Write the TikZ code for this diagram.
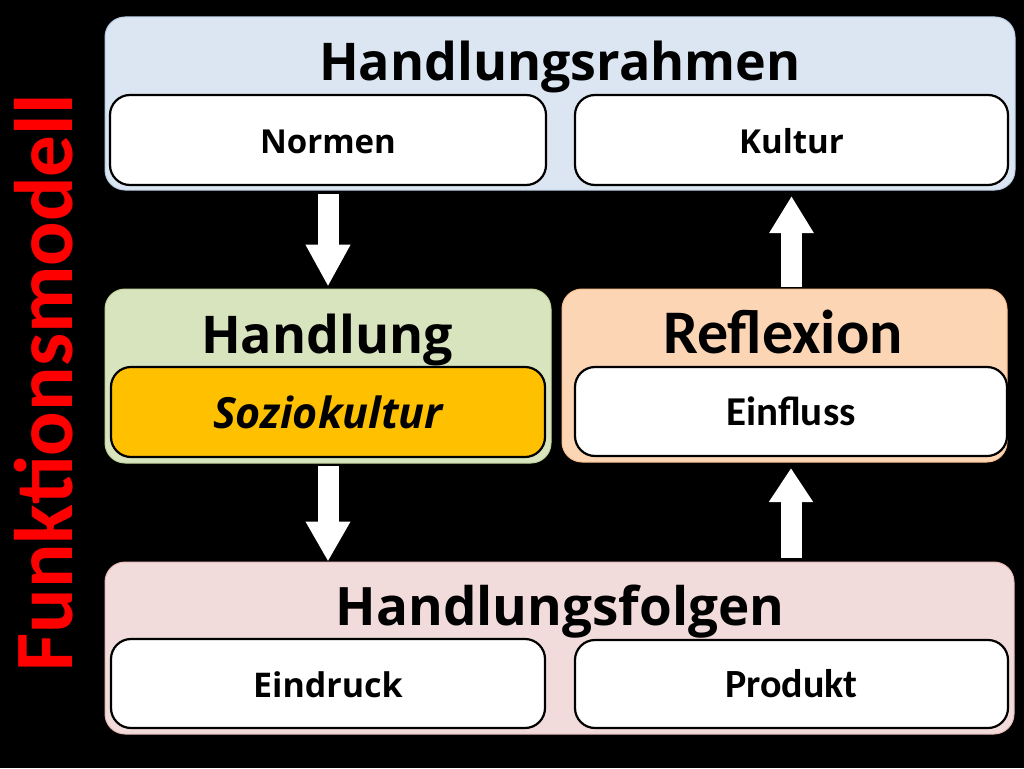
\documentclass[tikz,border=0pt]{standalone}
\usepackage{fontspec}
\setmainfont{Open Sans}
\newfontfamily\calfont{Carlito}
\usetikzlibrary{arrows.meta,calc}
\definecolor{pBlue}{HTML}{DCE6F2}
\definecolor{pBlueLine}{HTML}{B9CDE5}
\definecolor{pGreen}{HTML}{D7E4BD}
\definecolor{pGreenLine}{HTML}{C3D69B}
\definecolor{pPeach}{HTML}{FCD5B5}
\definecolor{pPeachLine}{HTML}{FAC090}
\definecolor{pPink}{HTML}{F2DCDB}
\definecolor{pPinkLine}{HTML}{E6B9B8}
\definecolor{sGold}{HTML}{FFC000}
\definecolor{tRed}{HTML}{FF0000}
\tikzset{
  panel/.style={rectangle, rounded corners=20pt, inner sep=0pt, line width=1pt},
  innerbox/.style={rectangle, rounded corners=20pt, draw=black, fill=white, line width=2.2pt,
    inner sep=0pt, text height=27pt, text depth=0pt, font=\bfseries\fontsize{33}{36}\selectfont},
  title/.style={anchor=base, inner sep=0pt, font=\bfseries\fontsize{52}{60}\selectfont},
  blockarr/.style={draw=white, line width=21pt},
}
\begin{document}
\begin{tikzpicture}[x=1pt,y=-1pt]
\useasboundingbox[fill=black] (0,0) rectangle (1024,768);
% panels
\node[panel, fill=pBlue, draw=pBlueLine, minimum width=910pt, minimum height=173pt] (top) at (560,103.5) {};
\node[panel, fill=pGreen, draw=pGreenLine, minimum width=446pt, minimum height=174pt] (midL) at (328,376) {};
\node[panel, fill=pPeach, draw=pPeachLine, minimum width=445pt, minimum height=173pt] (midR) at (784.5,375.5) {};
\node[panel, fill=pPink, draw=pPinkLine, minimum width=909pt, minimum height=172pt] (bot) at (559.5,648) {};
% titles
\node[title] (tTop) at (560,80) {Handlungsrahmen};
\node[title] (tMidL) at (327,353) {Handlung};
\node[title, font=\calfont\bfseries\fontsize{62}{66}\selectfont] (tMidR) at (783,353) {Reflexion};
\node[title, font=\bfseries\fontsize{53}{60}\selectfont] (tBot) at (560,625) {Handlungsfolgen};
% inner boxes
\node[innerbox, minimum width=436pt, minimum height=90pt] (normen) at (328,140) {Normen};
\node[innerbox, minimum width=433pt, minimum height=90pt] (kultur) at (791.5,140) {Kultur};
\node[innerbox, fill=sGold, minimum width=434pt, minimum height=90pt, text height=32pt,
  font=\bfseries\itshape\fontsize{43}{46}\selectfont] (sozio) at (328,412) {Soziokultur};
\node[innerbox, minimum width=432pt, minimum height=89pt, text height=27pt,
  font=\calfont\bfseries\fontsize{41}{44}\selectfont] (einfluss) at (791,411.5) {Einfluss};
\node[innerbox, minimum width=434pt, minimum height=89pt, font=\bfseries\fontsize{34}{38}\selectfont] (eindruck) at (328,683.5) {Eindruck};
\node[innerbox, minimum width=433pt, minimum height=88pt, text height=26pt,
  font=\calfont\bfseries\fontsize{40}{44}\selectfont] (produkt) at (791.5,684) {Produkt};
% side title
\node[anchor=base, rotate=90, inner sep=0pt, text=tRed, font=\calfont\bfseries\fontsize{83}{86}\selectfont] (side) at (72,383) {Funktionsmodell};
% arrows
\draw[blockarr, -{Triangle[width=42pt,length=42pt]}] ($(normen.south)+(0,8)$) -- ($(midL.north)+(0,-2)$);
\draw[blockarr, -{Triangle[width=42pt,length=37pt]}] ($(midR.north -| kultur.south)+(0,-2)$) -- ($(kultur.south)+(0,10)$);
\draw[blockarr, -{Triangle[width=42pt,length=40pt]}] ($(sozio.south)+(0,8)$) -- (bot.north -| sozio.south);
\draw[blockarr, -{Triangle[width=42pt,length=34pt]}] ($(bot.north -| einfluss.south)+(0,-4)$) -- ($(einfluss.south)+(0,11)$);
\end{tikzpicture}
\end{document}
